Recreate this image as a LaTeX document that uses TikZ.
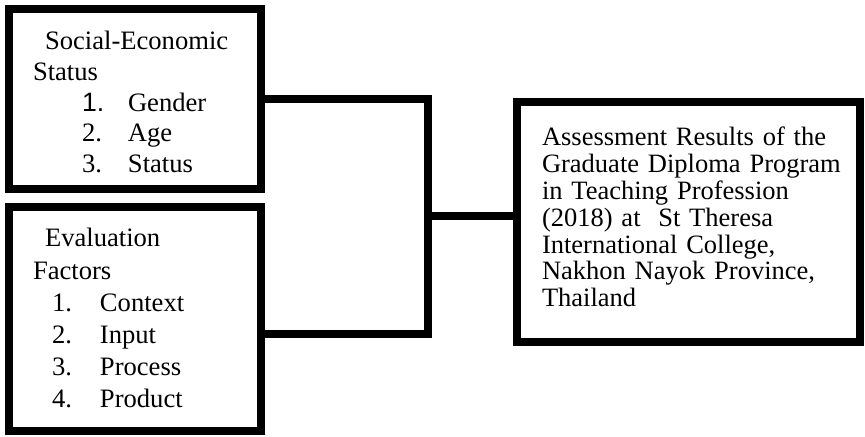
\documentclass[tikz,border=0pt]{standalone}
\usepackage{fontspec}
\setmainfont{Liberation Serif}
\newfontfamily\numfont{Liberation Sans}
\usetikzlibrary{positioning}

\tikzset{
    factorbox/.style={draw, rectangle, line width=4pt, anchor=north west, outer sep=0pt, inner ysep=0pt, align=left},
    joinline/.style={line width=4pt}
}

\begin{document}
\begin{tikzpicture}[x=0.5pt, y=-0.5pt]
    \useasboundingbox (0,0) rectangle (865,437);

    % Box with the social-economic status factors
    \node[factorbox, inner xsep=12pt, text width=102pt, text height=20.5pt, text depth=69.5pt,
          font=\fontsize{13.3}{15.3}\selectfont] (status) at (9,9)
    {\hspace*{6pt}Social-Economic\\
     Status\\
     \hspace*{24.5pt}\makebox[23pt][l]{\numfont 1.}Gender\\
     \hspace*{24.5pt}\makebox[23pt][l]{2.}Age\\
     \hspace*{24.5pt}\makebox[23pt][l]{3.}Status};

    % Box with the evaluation factors
    \node[factorbox, inner xsep=12pt, text width=102pt, text height=20pt, text depth=92pt,
          font=\fontsize{13.3}{16.1}\selectfont] (factors) at (9,207)
    {\hspace*{6pt}Evaluation\\
     Factors\\
     \hspace*{9.5pt}\makebox[24pt][l]{1.}Context\\
     \hspace*{9.5pt}\makebox[24pt][l]{2.}Input\\
     \hspace*{9.5pt}\makebox[24pt][l]{3.}Process\\
     \hspace*{9.5pt}\makebox[24pt][l]{4.}Product};

    % Box with the assessment results
    \node[factorbox, inner xsep=12.5pt, text width=146.5pt, text height=22pt, text depth=98pt,
          font=\fontsize{13.25}{13.4}\selectfont] (results) at (517,102)
    {Assessment Results of the\\
     \mbox{Graduate Diploma Program}\\
     in Teaching Profession\\
     (2018) at\ \ St Theresa\\
     International College,\\
     Nakhon Nayok Province,\\
     Thailand};

    % Joining lines between the boxes
    \coordinate (jtop) at (428,99);
    \coordinate (jmid) at (428,216);
    \coordinate (jbot) at (428,334);
    \draw[joinline] (status.east) -- (jtop) -- (jbot) -- (factors.east |- jbot);
    \draw[joinline] (jmid) -- (results.west |- jmid);
\end{tikzpicture}
\end{document}
